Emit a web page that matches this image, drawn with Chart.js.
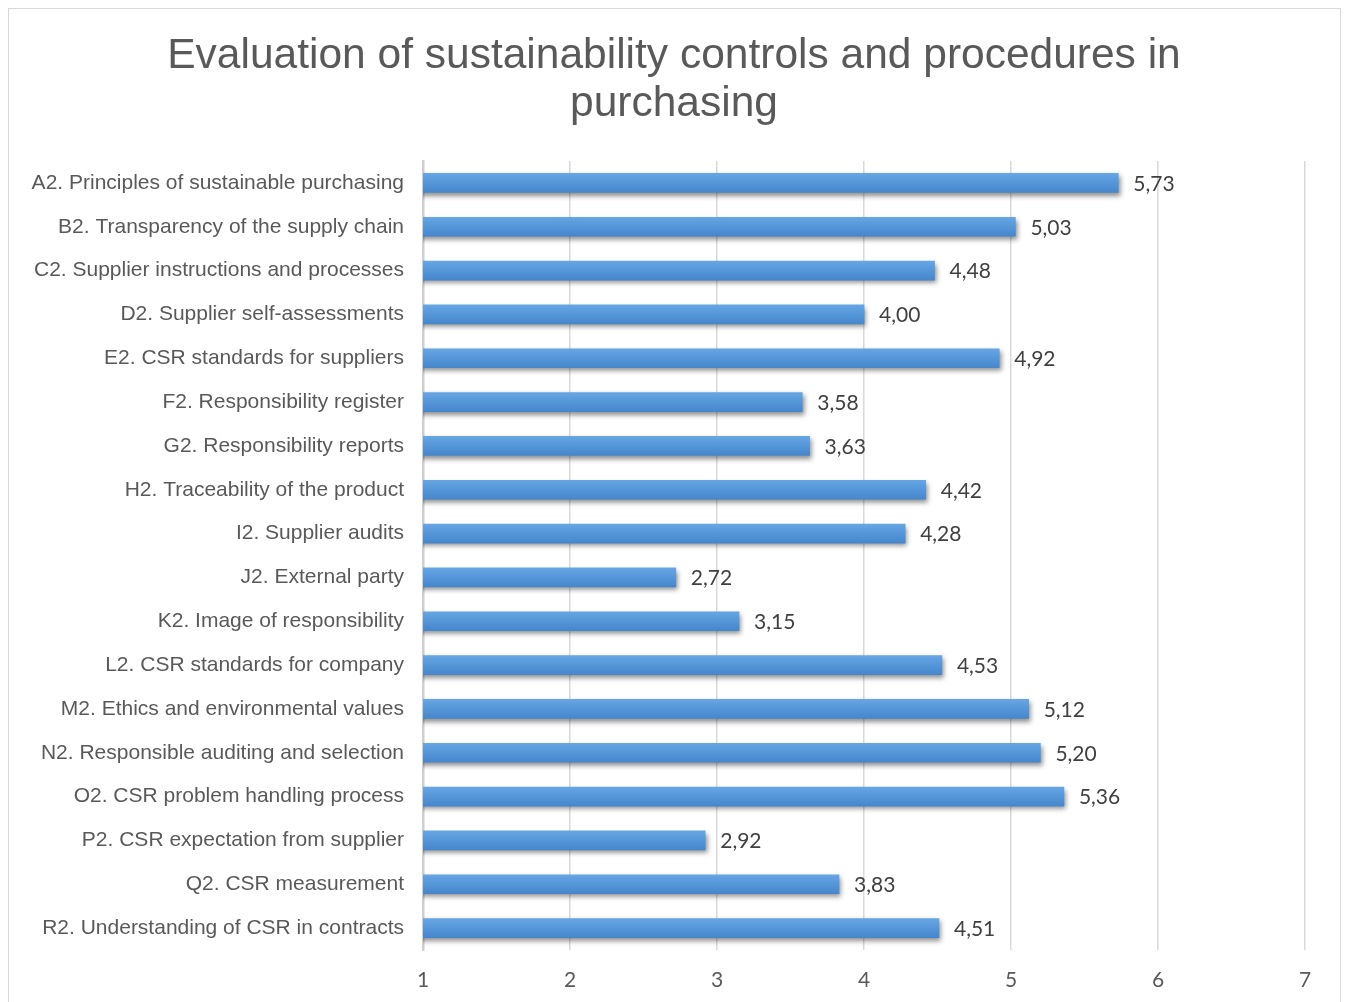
<!DOCTYPE html>
<html lang="en">
<head>
  <meta charset="UTF-8" />
  <title>Sustainability controls in purchasing</title>
  <script src="https://cdn.jsdelivr.net/npm/chart.js"></script>
  <style>
    body {
      margin: 0;
      background: #fff;
      overflow: hidden;
    }

    .frame {
      position: absolute;
      left: 8px;
      top: 8px;
      width: 1331px;
      height: 1020px;
      border: 1px solid #d9d9d9;
    }

    .wrap {
      position: absolute;
      left: 0;
      top: 0;
      width: 1346px;
      height: 1002px;
    }
  </style>
</head>
<body>
  <div class="frame"></div>
  <div class="wrap">
    <canvas id="evalChart" width="1346" height="1002"></canvas>
  </div>

  <script>
    const categories = [
      'A2. Principles of sustainable purchasing',
      'B2. Transparency of the supply chain',
      'C2. Supplier instructions and processes',
      'D2. Supplier self-assessments',
      'E2. CSR standards for suppliers',
      'F2. Responsibility register',
      'G2. Responsibility reports',
      'H2. Traceability of the product',
      'I2. Supplier audits',
      'J2. External party',
      'K2. Image of responsibility',
      'L2. CSR standards for company',
      'M2. Ethics and environmental values',
      'N2. Responsible auditing and selection',
      'O2. CSR problem handling process',
      'P2. CSR expectation from supplier',
      'Q2. CSR measurement',
      'R2. Understanding of CSR in contracts'
    ];
    const scores = [5.73, 5.03, 4.48, 4.00, 4.92, 3.58, 3.63, 4.42, 4.28, 2.72, 3.15, 4.53, 5.12, 5.20, 5.36, 2.92, 3.83, 4.51];
    const xTicks = [1, 2, 3, 4, 5, 6, 7];
    const titleLines = ['Evaluation of sustainability controls and procedures in', 'purchasing'];

    const BAR = 19;
    const grey = '#595959';

    // two-line heading centred on the page
    const heading = {
      id: 'heading',
      afterDraw(chart) {
        const ctx = chart.ctx;
        ctx.save();
        ctx.font = '42.5px "Liberation Sans"';
        ctx.fillStyle = grey;
        ctx.textAlign = 'center';
        ctx.textBaseline = 'middle';
        titleLines.forEach((line, i) => ctx.fillText(line, 674, 56 + i * 48));
        ctx.restore();
      }
    };

    // soft shadow under the bars
    const barShadow = {
      id: 'barShadow',
      beforeDatasetsDraw(chart) {
        const ctx = chart.ctx;
        ctx.save();
        ctx.shadowColor = 'rgba(0,0,0,0.45)';
        ctx.shadowBlur = 5;
        ctx.shadowOffsetX = 2;
        ctx.shadowOffsetY = 3;
      },
      afterDatasetsDraw(chart) {
        chart.ctx.restore();
      }
    };

    // value text at the end of each bar, with decimal comma
    const valueLabels = {
      id: 'valueLabels',
      afterDatasetsDraw(chart) {
        const ctx = chart.ctx;
        const meta = chart.getDatasetMeta(0);
        ctx.save();
        ctx.font = '21px Lato';
        ctx.fillStyle = '#404040';
        ctx.textAlign = 'left';
        ctx.textBaseline = 'middle';
        meta.data.forEach((bar, i) => {
          const txt = scores[i].toFixed(2).replace('.', ',');
          ctx.fillText(txt, bar.x + 15, bar.y + 1);
        });
        ctx.restore();
      }
    };

    function barFill(c) {
      const chart = c.chart;
      const y = chart.scales.y;
      if (!chart.chartArea || !y) return '#5596d8';
      const cy = y.getPixelForValue(c.dataIndex);
      const g = chart.ctx.createLinearGradient(0, cy - BAR / 2, 0, cy + BAR / 2);
      g.addColorStop(0, '#66a6e4');
      g.addColorStop(0.5, '#5596d8');
      g.addColorStop(1, '#4686cc');
      return g;
    }

    const ctx = document.getElementById('evalChart').getContext('2d');
    new Chart(ctx, {
      type: 'bar',
      data: {
        labels: categories,
        datasets: [{
          data: scores,
          backgroundColor: barFill,
          borderWidth: 0,
          barThickness: BAR
        }]
      },
      plugins: [barShadow, valueLabels, heading],
      options: {
        indexAxis: 'y',
        responsive: false,
        animation: false,
        layout: {
          padding: { left: 8, right: 41, top: 161, bottom: 0 }
        },
        plugins: {
          legend: { display: false },
          tooltip: { enabled: false },
          title: { display: false }
        },
        scales: {
          x: {
            min: 1,
            max: 7,
            beginAtZero: false,
            afterBuildTicks: s => { s.ticks = xTicks.map(v => ({ value: v })); },
            afterFit: s => { s.height = 52; },
            grid: { color: '#d9d9d9', lineWidth: 1.5, drawTicks: false },
            border: { display: false },
            ticks: {
              color: grey,
              padding: 18,
              font: { family: 'Lato', size: 21 }
            }
          },
          y: {
            afterFit: s => { s.width = 415; },
            grid: { display: false, drawTicks: false },
            border: { display: true, color: '#cfcfcf', width: 2.5 },
            ticks: {
              color: grey,
              padding: 19,
              autoSkip: false,
              font: { family: 'Liberation Sans', size: 21 }
            }
          }
        }
      }
    });
  </script>
</body>
</html>
